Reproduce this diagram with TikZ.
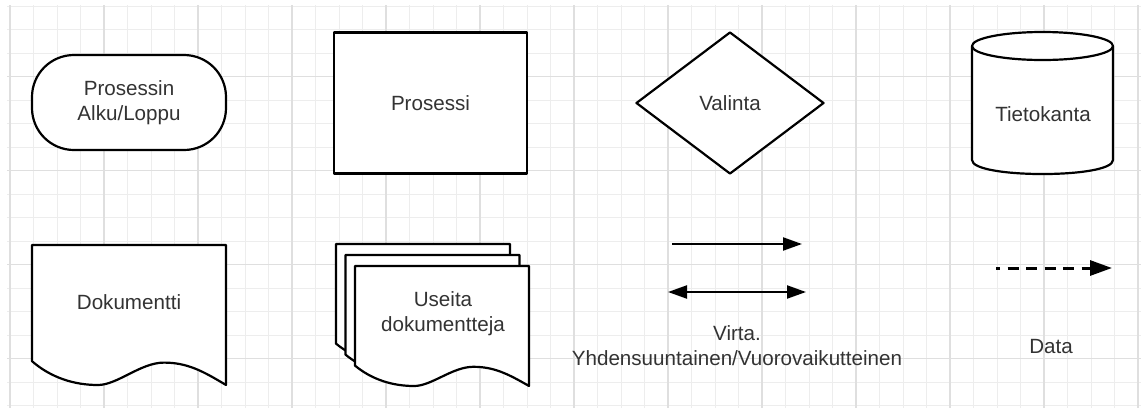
\documentclass[tikz,border=0pt]{standalone}
\usepackage{fontspec}
\setmainfont{Liberation Sans}
\usetikzlibrary{shapes.geometric,arrows.meta,positioning}

\definecolor{inkgray}{HTML}{333333}
\definecolor{gridminor}{HTML}{EDEDED}
\definecolor{gridmajor}{HTML}{DFDFDF}

\tikzset{
  outline/.style={draw=black, line width=2.2pt, fill=white, line join=round},
  caption/.style={text=inkgray, font=\fontsize{20.6}{25}\selectfont, align=center, inner sep=0pt},
  gridthin/.style={draw=gridminor, line width=1pt},
  gridthick/.style={draw=gridmajor, line width=1.4pt},
  docsheet/.pic={
    \draw[outline] (0,0) -- (1,0) -- (1,1)
      .. controls (0.88,0.9) and (0.8,0.84) .. (0.68,0.84)
      .. controls (0.56,0.84) and (0.44,1) .. (0.34,1)
      .. controls (0.22,1) and (0.1,0.95) .. (0,0.83) -- cycle;
  },
  >={Triangle[length=19pt,width=13pt]},
}

\begin{document}
\begin{tikzpicture}[x=1pt, y=-1pt]
  \fill[white] (0,0) rectangle (1141,410);
  \useasboundingbox (0,0) rectangle (1141,410);

  % grid
  \foreach \i in {0,...,48}
    \draw[gridthin] ({10+23.5*\i},5) -- ({10+23.5*\i},408);
  \foreach \j in {0,...,17}
    \draw[gridthin] (7,{6+23.5*\j}) -- (1141,{6+23.5*\j});
  \foreach \i in {0,4,...,48}
    \draw[gridthick] ({10+23.5*\i},5) -- ({10+23.5*\i},408);
  \foreach \j in {3,7,11,15}
    \draw[gridthick] (7,{6+23.5*\j}) -- (1141,{6+23.5*\j});

  % top row
  \node[outline, caption, rounded corners=42pt, minimum width=194pt, minimum height=95pt]
    (alku) at (129,102.5) {Prosessin\\Alku/Loppu};
  \node[outline, caption, minimum width=193pt, minimum height=141pt]
    (prosessi) at (430.5,103) {Prosessi};
  \node[outline, caption, diamond, aspect=1.32, minimum width=188pt, minimum height=142pt]
    (valinta) at (730,103) {Valinta};

  \draw[outline] (972,46) -- (972,160)
    .. controls (972,178.7) and (1113,178.7) .. (1113,160) -- (1113,46);
  \draw[outline] (1042.5,46) ellipse [x radius=70.5, y radius=14];
  \node[caption] (tieto) at (1043,114) {Tietokanta};

  % bottom row
  \pic[xscale=194, yscale=140] at (32,245) {docsheet};
  \node[caption] (doku) at (129,302) {Dokumentti};

  \foreach \k in {2,1,0}
    \pic[xscale=174, yscale=120] at ({355-9.5*\k},{266-11*\k}) {docsheet};
  \node[caption] (useita) at (443,314) {Useita\\dokumentteja};

  \coordinate (yksiA) at (672,244);
  \coordinate (yksiB) at (802,244);
  \coordinate (kaksiA) at (668,292);
  \coordinate (kaksiB) at (806,292);
  \draw[line width=2.2pt, ->] (yksiA) -- (yksiB);
  \draw[line width=2.2pt, <->] (kaksiA) -- (kaksiB);
  \node[caption] (virta) at (737,345.5) {Virta.\\Yhdensuuntainen/Vuorovaikutteinen};

  \coordinate (dataA) at (996,268);
  \coordinate (dataB) at (1112,268);
  \draw[line width=3pt, dash pattern=on 11pt off 7.5pt, dash phase=7pt,
    -{Triangle[length=22pt,width=15pt]}] (dataA) -- (dataB);
  \node[caption] (data) at (1051,347) {Data};
\end{tikzpicture}
\end{document}
